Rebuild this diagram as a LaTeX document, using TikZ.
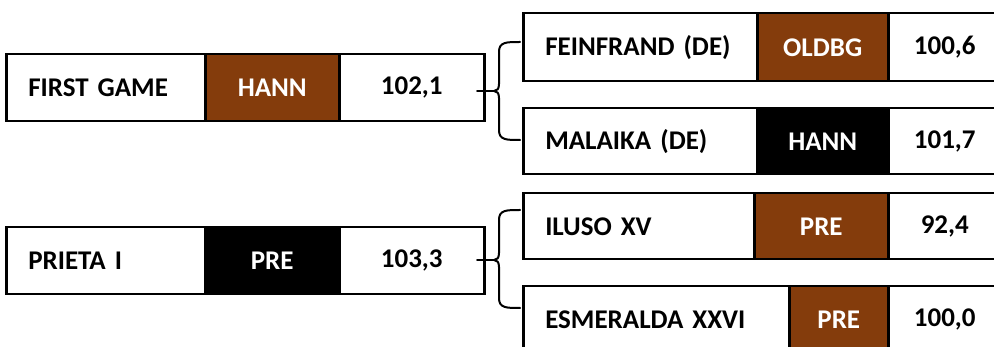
\documentclass[tikz,border=0pt]{standalone}
\usepackage{fontspec}
\setmainfont{Carlito}
\definecolor{brn}{HTML}{843C0C}
\begin{document}
\begin{tikzpicture}[x=1pt,y=-1pt,
  cell/.style={draw=black, line width=2.5pt, inner sep=0pt, anchor=north west,
    font=\fontsize{27}{32}\selectfont\bfseries},
  namecell/.style={cell, inner xsep=22pt, align=left},
  teamcell/.style={cell, text=white, fill=brn},
  blkcell/.style={cell, text=white, fill=black},
  valcell/.style={cell},
  brace/.style={draw=black, line width=2pt, line cap=round, line join=round}]
\useasboundingbox (0,0) rectangle (994,347);
\clip (0,0) rectangle (994,347);
% left top
\node[namecell, minimum height=67pt, text width=155pt] (n1) at (5,53) {FIRST GAME};
\node[teamcell, minimum height=67pt, minimum width=134pt] (t1) at (204,53) {HANN};
\node[valcell, minimum height=67pt, minimum width=145pt] (v1) at (338,53) {102,1};
% left bottom
\node[namecell, minimum height=67pt, text width=155pt] (n2) at (5,226) {PRIETA I};
\node[blkcell, minimum height=67pt, minimum width=134pt] (t2) at (204,226) {PRE};
\node[valcell, minimum height=67pt, minimum width=145pt] (v2) at (338,226) {103,3};
% right 1
\node[namecell, minimum height=68pt, text width=190pt] (n3) at (522,12) {FEINFRAND (DE)};
\node[teamcell, minimum height=68pt, minimum width=131pt] (t3) at (756,12) {OLDBG};
\node[valcell, minimum height=68pt, minimum width=113pt] (v3) at (887,12) {100,6};
% right 2
\node[namecell, minimum height=66pt, text width=190pt] (n4) at (522,107) {MALAIKA (DE)};
\node[blkcell, minimum height=66pt, minimum width=131pt] (t4) at (756,107) {HANN};
\node[valcell, minimum height=66pt, minimum width=113pt] (v4) at (887,107) {101,7};
% right 3
\node[namecell, minimum height=66pt, text width=187pt] (n5) at (522,192) {ILUSO XV};
\node[teamcell, minimum height=66pt, minimum width=134pt] (t5) at (753,192) {PRE};
\node[valcell, minimum height=66pt, minimum width=113pt] (v5) at (887,192) {92,4};
% right 4
\node[namecell, minimum height=66pt, text width=222pt] (n6) at (522,285) {ESMERALDA XXVI};
\node[teamcell, minimum height=66pt, minimum width=99pt] (t6) at (788,285) {PRE};
\node[valcell, minimum height=66pt, minimum width=113pt] (v6) at (887,285) {100,0};
% braces
\coordinate (s1) at (477,91);
\coordinate (b1) at (494,91);
\coordinate (s2) at (477,260);
\coordinate (b2) at (494,260);
\draw[brace] (s1) -- (b1);
\draw[brace] (520,42) .. controls (506,42) and (499,42) .. (499,52) -- (499,84)
  .. controls (499,89) and (497,91) .. (b1)
  .. controls (497,91) and (499,93) .. (499,98) -- (499,130)
  .. controls (499,140) and (506,140) .. (520,140);
\draw[brace] (s2) -- (b2);
\draw[brace] (520,210) .. controls (506,210) and (499,210) .. (499,220) -- (499,253)
  .. controls (499,258) and (497,260) .. (b2)
  .. controls (497,260) and (499,262) .. (499,267) -- (499,298)
  .. controls (499,308) and (506,308) .. (520,308);
\end{tikzpicture}
\end{document}
